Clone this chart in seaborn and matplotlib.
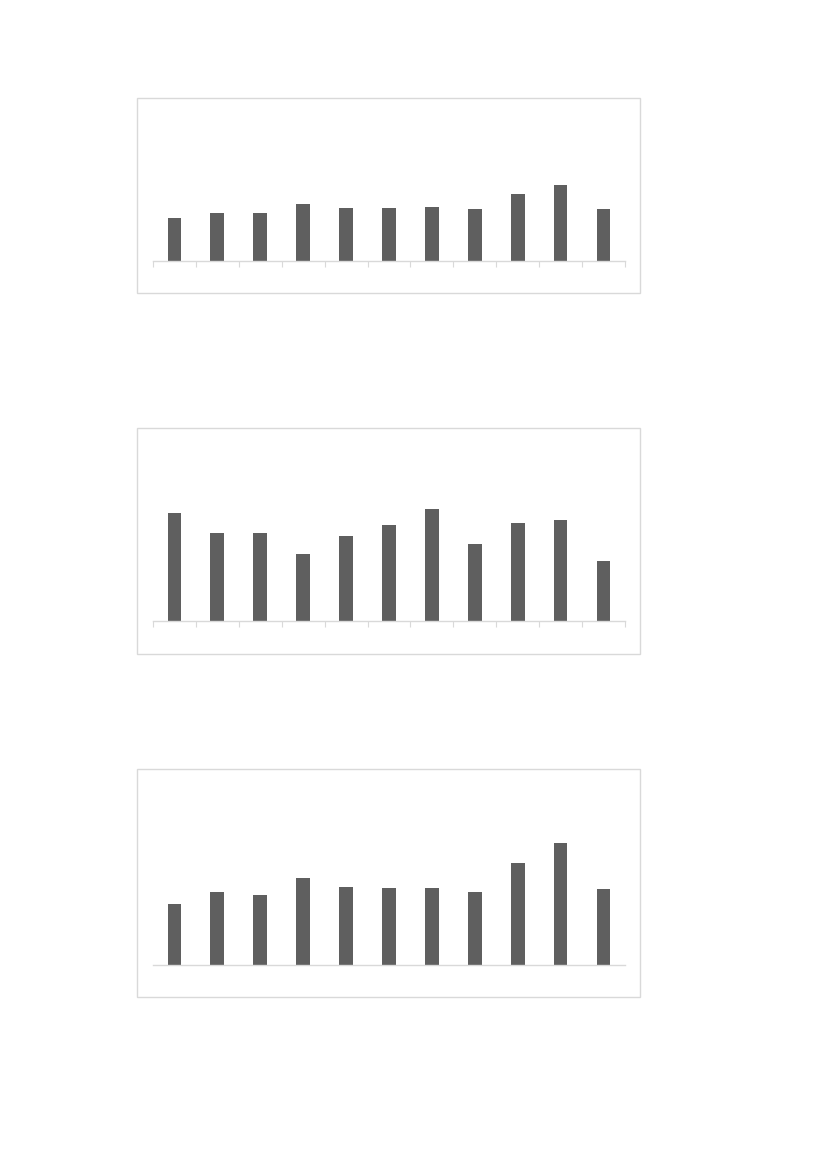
import matplotlib
matplotlib.use("Agg")
import matplotlib.pyplot as plt
from matplotlib.patches import Rectangle
import seaborn as sns
import pandas as pd

sns.set_theme(style="white")

categories = [str(i) for i in range(1, 12)]
top_values = [128, 144, 144, 171, 158, 159, 162, 157, 200, 227, 156]
middle_values = [324, 264, 263, 202, 255, 289, 335, 231, 294, 304, 180]
bottom_values = [182, 219, 210, 261, 235, 232, 230, 218, 306, 367, 228]

bar_color = "#5f5f5f"
frame_color = "#d9d9d9"

fig = plt.figure(figsize=(8.27, 11.69), dpi=100)

# (frame rect, axes rect, y max, show ticks)
panels = [
    (top_values, [0.1657, 0.7494, 0.6082, 0.1668], [0.185, 0.7767, 0.5707, 0.1292], 453, True),
    (middle_values, [0.1657, 0.4405, 0.6082, 0.1933], [0.185, 0.4688, 0.5707, 0.1548], 543, True),
    (bottom_values, [0.1657, 0.1471, 0.6082, 0.1950], [0.185, 0.1745, 0.5707, 0.1574], 552, False),
]

for values, frame, rect, ymax, ticks in panels:
    fig.patches.append(Rectangle((frame[0], frame[1]), frame[2], frame[3],
                                 transform=fig.transFigure, fill=False,
                                 edgecolor=frame_color, linewidth=1.0))
    ax = fig.add_axes(rect)
    df = pd.DataFrame({"cat": categories, "val": values})
    sns.barplot(data=df, x="cat", y="val", color=bar_color, width=0.32,
                saturation=1, linewidth=0, ax=ax)
    ax.set_xlim(-0.5, len(categories) - 0.5)
    ax.set_ylim(0, ymax)
    ax.set_xlabel("")
    ax.set_ylabel("")
    ax.set_yticks([])
    for s in ["top", "left", "right"]:
        ax.spines[s].set_visible(False)
    ax.spines["bottom"].set_color(frame_color)
    ax.spines["bottom"].set_linewidth(1.0)
    if ticks:
        ax.set_xticks([i - 0.5 for i in range(len(categories) + 1)])
        ax.tick_params(axis="x", direction="out", length=4, width=0.8,
                       color=frame_color, labelbottom=False, bottom=True)
    else:
        ax.set_xticks([])
    ax.set_xticklabels([])
    ax.patch.set_alpha(0)

fig.savefig("out.png", dpi=100)
